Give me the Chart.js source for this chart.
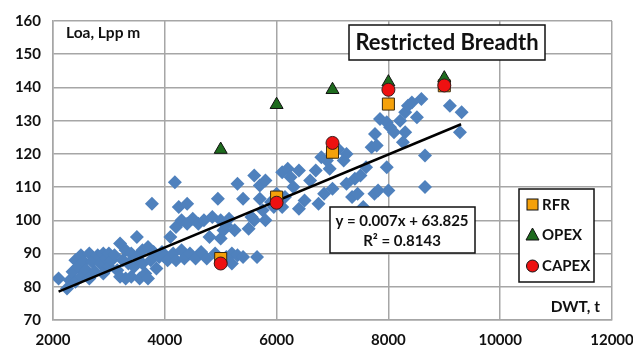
<!DOCTYPE html>
<html>
<head>
<meta charset="utf-8">
<script src="https://cdn.jsdelivr.net/npm/chart.js@4.4.1/dist/chart.umd.min.js"></script>
<style>
  body { margin: 0; background: #fff; }
  #wrap { width: 633px; height: 347px; }
</style>
</head>
<body>
<div id="wrap"><canvas id="grafico" width="633" height="347"></canvas></div>
<script>
// fleet data: deadweight (t) and length (m)
const dwt = [
  2100, 2250, 2300, 2350, 2400, 2400, 2450, 2500, 2500, 2550, 2600, 2650, 2650, 2700, 2750, 2800, 2850, 2900, 2900, 2950, 3000, 3000, 3050,
  3100, 3150, 3200, 3200, 3250, 3300, 3300, 3350, 3400, 3400, 3450, 3500, 3500, 3550, 3600, 3600, 3650, 3700, 3700, 3750, 3770, 3800, 3850, 3900, 3950,
  4000, 4050, 4100, 4150, 4180, 4200, 4200, 4250, 4300, 4300, 4350, 4400, 4400, 4450, 4500, 4550, 4600, 4650, 4700, 4750, 4800, 4850, 4900, 4950, 5000, 5000, 5050, 5100, 5100, 5150,
  5200, 5200, 5250, 5300, 5300, 5400, 5400, 5500, 5550, 5600, 5600, 5650, 5700, 5700, 5750, 5800, 5800, 5900, 5950, 6000,
  6100, 6100, 6150, 6200, 6250, 6300, 6400, 6400, 6500, 6600, 6700, 6750, 6800, 6850, 6900, 6950, 7000, 7000,
  7100, 7200, 7250, 7250, 7350, 7400, 7450, 7500, 7550, 7600, 7700, 7750, 7760, 7790, 7815, 7850, 7970, 7970, 8000,
  8030, 8100, 8210, 8260, 8300, 8300, 8350, 8420, 8510, 8590, 8655, 8655, 9100, 9280, 9310
];
const loa = [
  82.5, 79.5, 82, 84.5, 88, 81.5, 86, 89.5, 83, 87.5, 85, 90, 82.5, 87.5, 84.5, 89.5, 87, 90, 84, 88.5, 86, 90, 88,
  89.5, 85, 93, 83, 88, 82.5, 91, 87, 90, 83, 86, 95, 89, 82.5, 91, 87, 84, 92, 82.5, 88, 105, 90.5, 85.5, 89, 90.5,
  89, 88, 95, 90, 111.5, 98, 88, 104, 100, 91, 88.5, 105, 99, 90, 100.5, 88.5, 99, 90.5, 100, 88.5, 95, 101, 90, 106.5, 100, 94.5, 97, 98.5, 89, 100.5,
  90, 87, 97, 111, 89.5, 106.5, 89, 97.5, 101, 113.5, 100, 89, 110.5, 106.5, 103, 112, 100, 105.5, 104, 108,
  114.5, 104, 107, 115.5, 113, 110, 103.5, 115, 106, 112, 115, 105, 119, 108, 118, 115.5, 109.5, 120.5,
  121.5, 118, 111, 120, 107, 112.5, 108, 113.5, 104, 116, 122, 108, 126, 122.5, 109, 130.5, 129.5, 116, 109,
  128, 126.5, 130, 123.5, 132.5, 126.5, 134.5, 135.5, 131, 136.5, 119.5, 110, 134.5, 126.5, 132.5
];

// design variants
const variantDwt = [5000, 6000, 7000, 8000, 9000];
const rfrLoa = [88.5, 107, 120.5, 135, 140.5];
const opexLoa = [121.3, 134.8, 139.3, 141.6, 142.8];
const capexLoa = [87, 105.3, 123.3, 139.3, 140.6];

// linear trend line
const trendSlope = 0.007;
const trendIntercept = 63.825;
const trendDwt = [2100, 9300];

const xMin = 2000, xMax = 12000, xStep = 2000;
const yMin = 70, yMax = 160, yStep = 10;

const FONT = 'Lato';
Chart.defaults.font.family = FONT;

const pts = (xs, ys) => xs.map((x, i) => ({ x: x, y: ys[i] }));

const anotacoes = {
  id: 'anotacoes',
  afterDatasetsDraw(chart) {
    const c = chart.ctx;
    c.save();
    c.fillStyle = '#111';
    c.textBaseline = 'middle';

    // axis captions
    c.font = 'bold 15.5px ' + FONT;
    c.textAlign = 'left';
    c.fillText('Loa, Lpp m', 66, 33);
    c.textAlign = 'right';
    c.fillText('DWT, t', 600, 307);

    // title box
    c.fillStyle = '#fff';
    c.fillRect(349, 25, 196, 35);
    c.strokeStyle = '#111';
    c.lineWidth = 1.5;
    c.strokeRect(349, 25, 196, 35);
    c.fillStyle = '#111';
    c.font = 'bold 22px ' + FONT;
    c.textAlign = 'center';
    c.fillText('Restricted Breadth', 447, 43);

    // equation box
    c.fillStyle = '#fff';
    c.fillRect(330, 207, 145, 46);
    c.strokeRect(330, 207, 145, 46);
    c.fillStyle = '#111';
    c.font = 'bold 15px ' + FONT;
    c.fillText('y = ' + trendSlope + 'x + ' + trendIntercept, 402, 221);
    c.fillText('R\u00b2 = 0.8143', 402, 241);

    // legend
    c.fillStyle = '#fff';
    c.fillRect(519, 189, 75, 93);
    c.strokeRect(519, 189, 75, 93);
    c.lineWidth = 1;
    c.fillStyle = '#f5a10a';
    c.fillRect(527, 199, 11, 11);
    c.strokeRect(527, 199, 11, 11);
    c.fillStyle = '#1e6b1e';
    c.beginPath();
    c.moveTo(532.5, 228); c.lineTo(539, 240); c.lineTo(526, 240); c.closePath();
    c.fill(); c.stroke();
    c.fillStyle = '#ee1111';
    c.beginPath();
    c.arc(532.5, 266, 6, 0, Math.PI * 2);
    c.fill(); c.stroke();
    c.fillStyle = '#111';
    c.font = 'bold 15px ' + FONT;
    c.textAlign = 'left';
    c.fillText('RFR', 542, 205);
    c.fillText('OPEX', 542, 235);
    c.fillText('CAPEX', 542, 266);
    c.restore();
  }
};

new Chart(document.getElementById('grafico'), {
  type: 'scatter',
  data: {
    datasets: [
      {
        label: 'CAPEX',
        data: pts(variantDwt, capexLoa),
        pointStyle: 'circle',
        pointRadius: 6.5,
        backgroundColor: '#ee1111',
        borderColor: '#3a1a1a',
        borderWidth: 1,
        order: 0
      },
      {
        label: 'OPEX',
        data: pts(variantDwt, opexLoa),
        pointStyle: 'triangle',
        pointRadius: 7.5,
        backgroundColor: '#1e6b1e',
        borderColor: '#111',
        borderWidth: 1,
        order: 1
      },
      {
        label: 'RFR',
        data: pts(variantDwt, rfrLoa),
        pointStyle: 'rect',
        pointRadius: 8.5,
        backgroundColor: '#f5a10a',
        borderColor: '#3a2a10',
        borderWidth: 1,
        order: 2
      },
      {
        label: 'Trend',
        type: 'line',
        data: trendDwt.map(x => ({ x: x, y: trendSlope * x + trendIntercept })),
        borderColor: '#000',
        borderWidth: 2.5,
        pointRadius: 0,
        fill: false,
        order: 3
      },
      {
        label: 'Fleet',
        data: pts(dwt, loa),
        pointStyle: 'rectRot',
        pointRadius: 7,
        backgroundColor: '#4f81bd',
        borderWidth: 0,
        order: 4
      }
    ]
  },
  plugins: [anotacoes],
  options: {
    responsive: false,
    animation: false,
    layout: { padding: { top: 17, right: 21, left: 0, bottom: 0 } },
    plugins: { legend: { display: false }, tooltip: { enabled: false } },
    scales: {
      x: {
        min: xMin, max: xMax,
        ticks: { stepSize: xStep, color: '#111', font: { size: 15, weight: 'bold' }, padding: 11, maxRotation: 0, callback: v => String(v) },
        grid: { color: '#a6a6a6', lineWidth: 1.5, drawTicks: false },
        border: { color: '#a6a6a6', width: 1.5 },
        // the last label may run off the right edge
        afterFit(scale) { scale.height = 27; scale.paddingRight = 0; scale.paddingLeft = 0; }
      },
      y: {
        min: yMin, max: yMax,
        ticks: { stepSize: yStep, color: '#111', font: { size: 15, weight: 'bold' }, padding: 12, callback: v => String(v) },
        grid: { color: '#a6a6a6', lineWidth: 1.5, drawTicks: false },
        border: { color: '#a6a6a6', width: 1.5 },
        afterFit(scale) { scale.width = 53; }
      }
    }
  }
});
</script>
</body>
</html>
